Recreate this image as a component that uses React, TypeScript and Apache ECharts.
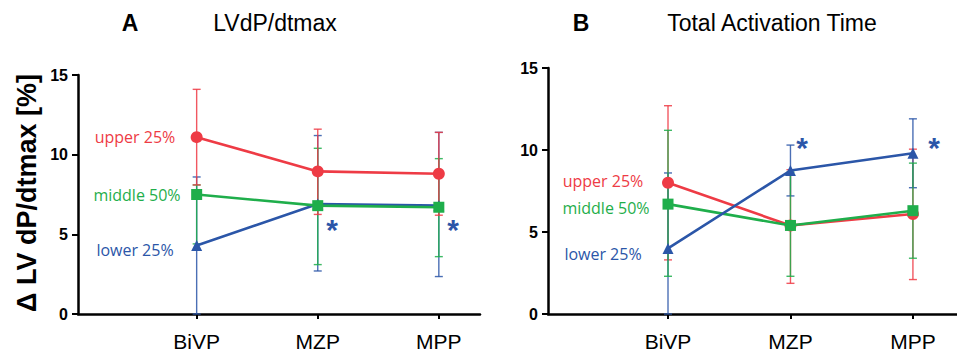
import React, { useEffect, useRef } from "react";
import * as echarts from "echarts";

const categories = ["BiVP", "MZP", "MPP"];
const yTicks = [0, 5, 10, 15];

// Panel A: LVdP/dtmax
const aUpperMean = [11.1, 8.95, 8.8];
const aUpperLow = [8.1, 6.25, 6.2];
const aUpperHigh = [14.1, 11.6, 11.4];
const aMiddleMean = [7.5, 6.8, 6.7];
const aMiddleLow = [4.4, 3.1, 3.6];
const aMiddleHigh = [8.1, 10.4, 9.75];
const aLowerMean = [4.3, 6.9, 6.8];
const aLowerLow = [0, 2.7, 2.35];
const aLowerHigh = [8.6, 11.2, 11.4];

// Panel B: Total Activation Time
const bUpperMean = [8.0, 5.4, 6.1];
const bUpperLow = [3.3, 1.87, 2.1];
const bUpperHigh = [12.7, 8.8, 10.05];
const bMiddleMean = [6.7, 5.4, 6.3];
const bMiddleLow = [2.3, 2.3, 3.4];
const bMiddleHigh = [11.2, 8.65, 9.2];
const bLowerMean = [4.0, 8.75, 9.8];
const bLowerLow = [0, 7.2, 7.7];
const bLowerHigh = [8.6, 10.3, 11.9];

const RED = "#ee3b45";
const GREEN = "#1fae4b";
const BLUE = "#2b56a8";

const pts = (vals: number[]) => vals.map((v, i) => [i + 1, v]);
const errs = (lo: number[], hi: number[]) => lo.map((l, i) => [i + 1, l, hi[i]]);

function errSeries(idx: number, lo: number[], hi: number[], color: string, z: number) {
  return {
    type: "custom",
    xAxisIndex: idx,
    yAxisIndex: idx,
    z,
    encode: { x: 0, y: [1, 2] },
    data: errs(lo, hi),
    renderItem: (params: any, api: any) => {
      const x = api.value(0);
      const p1 = api.coord([x, api.value(1)]);
      const p2 = api.coord([x, api.value(2)]);
      const w = 4;
      const style = { stroke: color, lineWidth: 1.4, opacity: 0.85 };
      return {
        type: "group",
        children: [
          { type: "line", shape: { x1: p1[0], y1: p1[1], x2: p2[0], y2: p2[1] }, style },
          { type: "line", shape: { x1: p1[0] - w, y1: p1[1], x2: p1[0] + w, y2: p1[1] }, style },
          { type: "line", shape: { x1: p2[0] - w, y1: p2[1], x2: p2[0] + w, y2: p2[1] }, style },
        ],
      };
    },
  };
}

function lineSeries(idx: number, vals: number[], color: string, symbol: string, size: number, z: number) {
  return {
    type: "line",
    xAxisIndex: idx,
    yAxisIndex: idx,
    z,
    data: pts(vals),
    symbol,
    symbolSize: size,
    showAllSymbol: true,
    lineStyle: { color, width: 2.6 },
    itemStyle: { color, borderWidth: 0 },
  };
}

function xAxisDef(idx: number, min: number, max: number) {
  return {
    type: "value",
    gridIndex: idx,
    min,
    max,
    splitLine: { show: false },
    axisLine: { show: true, onZero: false, lineStyle: { color: "#000", width: 2.5 } },
    axisTick: { show: true, length: 5, lineStyle: { color: "#000", width: 2 }, customValues: [1, 2, 3] },
    axisLabel: {
      customValues: [1, 2, 3],
      formatter: (v: number) => categories[Math.round(v) - 1] ?? "",
      color: "#000",
      fontFamily: "Liberation Sans",
      fontSize: 21,
      margin: 17,
    },
  };
}

function yAxisDef(idx: number) {
  return {
    type: "value",
    gridIndex: idx,
    min: yTicks[0],
    max: yTicks[yTicks.length - 1],
    interval: 5,
    splitLine: { show: false },
    axisLine: { show: true, lineStyle: { color: "#000", width: 2.5 } },
    axisTick: { show: true, length: 6, lineStyle: { color: "#000", width: 2 } },
    axisLabel: {
      color: "#000",
      fontFamily: "Liberation Sans",
      fontWeight: "bold",
      fontSize: 16,
      margin: 10,
    },
  };
}

const txt = (text: string, x: number, y: number, color: string, size: number, family: string, weight = "normal", align = "center") => ({
  type: "text",
  x,
  y,
  style: { text, fill: color, fontSize: size, fontFamily: family, fontWeight: weight, align, verticalAlign: "middle" },
});

export default function App() {
  const ref = useRef<HTMLDivElement>(null);
  useEffect(() => {
    if (!ref.current) return;
    const chart = echarts.init(ref.current, null, { renderer: "svg" });
    chart.setOption({
      animation: false,
      grid: [
        { left: 78, top: 75, width: 402, height: 240 },
        { left: 548, top: 68, width: 409, height: 246 },
      ],
      xAxis: [xAxisDef(0, 0.02, 3.34), xAxisDef(1, 0.02, 3.36)],
      yAxis: [yAxisDef(0), yAxisDef(1)],
      series: [
        errSeries(0, aLowerLow, aLowerHigh, BLUE, 2),
        errSeries(0, aMiddleLow, aMiddleHigh, GREEN, 3),
        errSeries(0, aUpperLow, aUpperHigh, RED, 4),
        lineSeries(0, aLowerMean, BLUE, "triangle", 11, 5),
        lineSeries(0, aMiddleMean, GREEN, "rect", 11, 6),
        lineSeries(0, aUpperMean, RED, "circle", 12, 7),
        errSeries(1, bUpperLow, bUpperHigh, RED, 2),
        errSeries(1, bLowerLow, bLowerHigh, BLUE, 3),
        errSeries(1, bMiddleLow, bMiddleHigh, GREEN, 4),
        lineSeries(1, bUpperMean, RED, "circle", 12, 5),
        lineSeries(1, bMiddleMean, GREEN, "rect", 11, 6),
        lineSeries(1, bLowerMean, BLUE, "triangle", 11, 7),
      ],
      graphic: [
        txt("A", 130, 23, "#000", 23, "Liberation Sans", "bold"),
        txt("LVdP/dtmax", 275, 23, "#000", 23, "Liberation Sans"),
        txt("B", 581, 23, "#000", 23, "Liberation Sans", "bold"),
        txt("Total Activation Time", 772, 23, "#000", 23, "Liberation Sans"),
        {
          type: "text",
          x: 27,
          y: 193,
          rotation: Math.PI / 2,
          style: {
            text: "Δ LV dP/dtmax [%]",
            fill: "#000",
            fontSize: 27,
            fontFamily: "Liberation Sans",
            fontWeight: "bold",
            align: "center",
            verticalAlign: "middle",
          },
        },
        txt("upper 25%", 135, 137, RED, 16, "Open Sans"),
        txt("middle 50%", 137, 195, GREEN, 16, "Open Sans"),
        txt("lower 25%", 135, 250, BLUE, 16, "Open Sans"),
        txt("upper 25%", 603, 181, RED, 16, "Open Sans"),
        txt("middle 50%", 606, 208, GREEN, 16, "Open Sans"),
        txt("lower 25%", 603, 254, BLUE, 16, "Open Sans"),
        txt("*", 332, 229, BLUE, 30, "Liberation Sans", "bold"),
        txt("*", 453, 229, BLUE, 30, "Liberation Sans", "bold"),
        txt("*", 802, 147, BLUE, 30, "Liberation Sans", "bold"),
        txt("*", 934, 147, BLUE, 30, "Liberation Sans", "bold"),
      ],
    });
    return () => chart.dispose();
  }, []);
  return <div ref={ref} style={{ width: 957, height: 352, position: "absolute", left: 0, top: 0 }} />;
}
